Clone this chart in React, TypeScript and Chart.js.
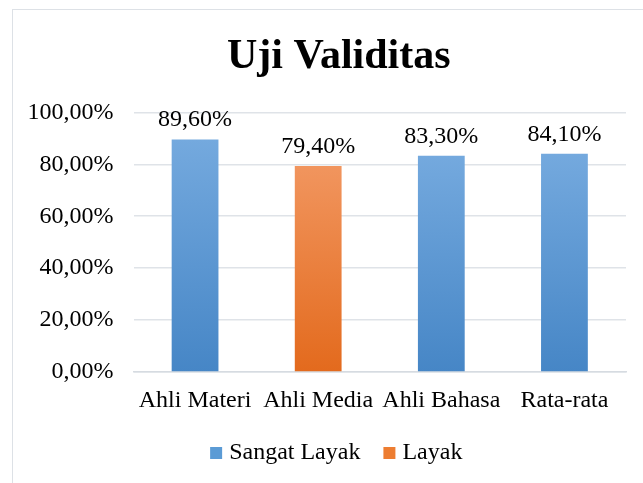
import React, { useEffect, useRef } from 'react';
import { Chart, registerables } from 'chart.js';

Chart.register(...registerables);

const chartTitle = 'Uji Validitas';
const categories = ['Ahli Materi', 'Ahli Media', 'Ahli Bahasa', 'Rata-rata'];
const seriesNames = ['Sangat Layak', 'Layak'];
const sangatLayak: (number | null)[] = [89.6, null, 83.3, 84.1];
const layak: (number | null)[] = [null, 79.4, null, null];
const yMin = 0;
const yMax = 100;
const yStep = 20;

const FONT = "'Liberation Serif', 'Times New Roman', serif";

const fmt = (v: number) => v.toFixed(2).replace('.', ',') + '%';

const palettes = [
  { top: '#74a9de', bottom: '#4686c6', flat: '#5b9bd5' },
  { top: '#f1955e', bottom: '#e36a1d', flat: '#ed7d31' },
];

function gradientFor(idx: number) {
  return (ctx: any) => {
    const chart = ctx.chart;
    const p = palettes[idx];
    if (!chart.chartArea || ctx.raw === undefined || ctx.raw === null) return p.flat;
    const y = chart.scales.y;
    const top = y.getPixelForValue(ctx.raw);
    const bottom = y.getPixelForValue(0);
    if (!isFinite(top) || !isFinite(bottom) || top === bottom) return p.flat;
    const g = chart.ctx.createLinearGradient(0, top, 0, bottom);
    g.addColorStop(0, p.top);
    g.addColorStop(1, p.bottom);
    return g;
  };
}

const valueLabels = {
  id: 'valueLabels',
  afterDatasetsDraw(chart: any) {
    const ctx = chart.ctx;
    ctx.save();
    ctx.font = `24px ${FONT}`;
    ctx.fillStyle = '#000';
    ctx.textAlign = 'center';
    ctx.textBaseline = 'alphabetic';
    chart.data.datasets.forEach((ds: any, di: number) => {
      const meta = chart.getDatasetMeta(di);
      meta.data.forEach((el: any, i: number) => {
        const v = ds.data[i];
        if (v === null || v === undefined) return;
        ctx.fillText(fmt(v), el.x, el.y - 13);
      });
    });
    ctx.restore();
  },
};

export default function App() {
  const ref = useRef<HTMLCanvasElement | null>(null);

  useEffect(() => {
    if (!ref.current) return;
    const chart = new Chart(ref.current, {
      type: 'bar',
      data: {
        labels: categories,
        datasets: [
          {
            label: seriesNames[0],
            data: sangatLayak,
            backgroundColor: gradientFor(0),
            categoryPercentage: 1,
            barPercentage: 0.38,
          },
          {
            label: seriesNames[1],
            data: layak,
            backgroundColor: gradientFor(1),
            categoryPercentage: 1,
            barPercentage: 0.38,
          },
        ],
      },
      options: {
        responsive: false,
        animation: false,
        devicePixelRatio: 1,
        layout: { padding: { top: 10, left: 51.5, right: 17, bottom: 8 } },
        scales: {
          x: {
            stacked: true,
            afterFit: (scale: any) => {
              scale.height = 41;
            },
            grid: { display: false, drawTicks: false },
            border: { display: true, color: '#d6dbe1', width: 1.5 },
            ticks: {
              color: '#000',
              font: { family: FONT, size: 24, lineHeight: 0.1 },
              padding: 27.5,
              maxRotation: 0,
              minRotation: 0,
              autoSkip: false,
            },
          },
          y: {
            min: yMin,
            max: yMax,
            afterFit: (scale: any) => {
              scale.width = 82;
            },
            grid: { color: '#dfe3e8', lineWidth: 1.5, drawTicks: false },
            border: { display: false },
            ticks: {
              stepSize: yStep,
              color: '#000',
              mirror: true,
              crossAlign: 'far',
              padding: -106,
              font: { family: FONT, size: 24 },
              callback: (value: any) => fmt(Number(value)),
            },
          },
        },
        plugins: {
          title: {
            display: true,
            text: chartTitle,
            color: '#000',
            font: { family: FONT, size: 42, weight: 'bold' },
            padding: { top: 22, bottom: 30 },
          },
          legend: {
            position: 'bottom',
            labels: {
              color: '#000',
              font: { family: FONT, size: 24 },
              usePointStyle: true,
              pointStyle: 'rect',
              boxWidth: 2,
              boxHeight: 12,
              padding: 28,
              generateLabels: (c: any) =>
                c.data.datasets.map((ds: any, i: number) => ({
                  text: ds.label,
                  fillStyle: palettes[i].flat,
                  strokeStyle: palettes[i].flat,
                  lineWidth: 0,
                  pointStyle: 'rect',
                  hidden: false,
                  datasetIndex: i,
                  fontColor: '#000',
                })),
            },
          },
          tooltip: { enabled: false },
        },
      },
      plugins: [valueLabels],
    });
    return () => chart.destroy();
  }, []);

  return (
    <div style={{ position: 'fixed', left: 0, top: 0, width: 643, height: 483, background: '#fff', overflow: 'hidden' }}>
      <div
        style={{
          position: 'absolute',
          left: 12,
          top: 9,
          width: 700,
          height: 600,
          border: '1.5px solid #dde1e6',
          boxSizing: 'border-box',
        }}
      />
      <canvas ref={ref} width={643} height={483} style={{ position: 'absolute', left: 0, top: 0, width: 643, height: 483 }} />
    </div>
  );
}
